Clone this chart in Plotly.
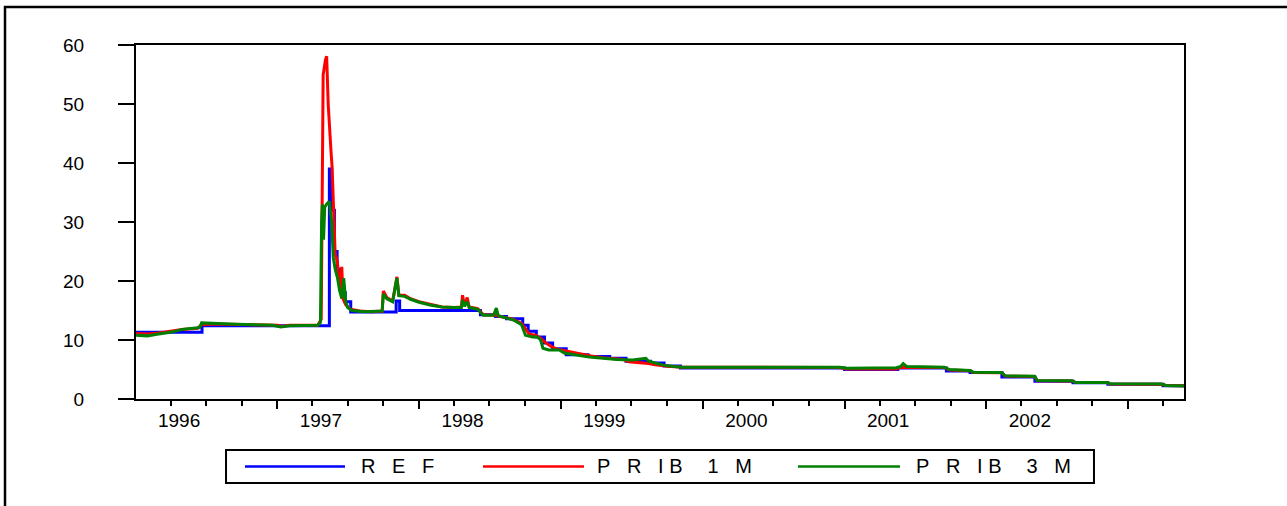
import plotly.graph_objects as go

# ---------------- data ----------------
ref_dates = ["1996-01-02", "1996-06-21", "1997-05-15", "1997-05-21", "1997-05-28",
             "1997-06-04", "1997-06-11", "1997-06-18", "1997-06-25", "1997-07-09",
             "1997-11-03", "1997-11-12", "1998-06-08", "1998-07-17", "1998-08-14",
             "1998-09-25", "1998-10-09", "1998-10-30", "1998-11-20", "1998-12-11",
             "1999-01-15", "1999-03-12", "1999-05-07", "1999-06-18", "1999-08-20",
             "1999-09-24", "1999-11-05", "2001-01-01", "2001-05-18", "2001-09-20",
             "2001-11-20", "2002-02-10", "2002-05-06", "2002-08-12", "2002-11-10",
             "2003-04-01", "2003-05-25"]
ref_values = [11.3, 12.4, 39.0, 32.0, 25.0,
              22.0, 20.0, 18.0, 16.5, 14.75,
              16.6, 15.0, 14.3, 14.0, 13.6,
              12.5, 11.5, 10.5, 9.5, 8.5,
              7.5, 7.2, 6.9, 6.4, 6.1,
              5.6, 5.25, 5.0, 5.25, 4.75,
              4.5, 3.75, 3.0, 2.75, 2.5,
              2.25, 2.25]

prib1m_dates = ["1996-01-02", "1996-02-01", "1996-03-01", "1996-04-01", "1996-05-01",
                "1996-06-10", "1996-06-20", "1996-07-15", "1996-09-01", "1996-11-01",
                "1997-01-02", "1997-01-10", "1997-02-01", "1997-04-15", "1997-04-24",
                "1997-04-27", "1997-04-29", "1997-05-05", "1997-05-08", "1997-05-12",
                "1997-05-15", "1997-05-19", "1997-05-22", "1997-05-26", "1997-05-30",
                "1997-06-04", "1997-06-09", "1997-06-13", "1997-06-16", "1997-06-19",
                "1997-06-26", "1997-07-08", "1997-08-01", "1997-09-01", "1997-09-28",
                "1997-10-01", "1997-10-10", "1997-10-25", "1997-11-05", "1997-11-10",
                "1997-11-25", "1997-12-10", "1998-01-01", "1998-02-01", "1998-03-01",
                "1998-04-01", "1998-04-20", "1998-04-23", "1998-04-28", "1998-05-05",
                "1998-05-10", "1998-06-01", "1998-06-15", "1998-07-15", "1998-08-10",
                "1998-09-01", "1998-09-22", "1998-10-02", "1998-10-12", "1998-10-28",
                "1998-11-10", "1998-11-22", "1998-12-05", "1998-12-20", "1999-01-20",
                "1999-02-20", "1999-03-20", "1999-04-20", "1999-05-20", "1999-06-10",
                "1999-06-25", "1999-07-20", "1999-08-15", "1999-09-01", "1999-09-20",
                "1999-10-10", "1999-11-10", "2000-06-01", "2000-12-20", "2001-01-05",
                "2001-05-15", "2001-05-25", "2001-09-15", "2001-09-28", "2001-11-20",
                "2001-11-28", "2002-02-10", "2002-02-18", "2002-05-05", "2002-05-12",
                "2002-08-10", "2002-08-18", "2002-11-08", "2002-11-15", "2003-03-28",
                "2003-04-08", "2003-05-25"]
prib1m_values = [11.1, 11.0, 11.2, 11.5, 11.8,
                 12.0, 12.6, 12.7, 12.6, 12.6,
                 12.5, 12.3, 12.5, 12.5, 13.5,
                 45.0, 55.0, 57.5, 58.1, 50.0,
                 45.6, 42.2, 39.3, 29.8, 24.5,
                 23.5, 20.0, 18.0, 22.4, 17.0,
                 16.0, 15.2, 14.9, 14.8, 14.9,
                 18.3, 17.2, 16.6, 20.7, 17.6,
                 17.6, 17.0, 16.5, 16.0, 15.6,
                 15.5, 15.6, 17.6, 15.8, 17.2,
                 15.6, 15.3, 14.3, 14.2, 13.8,
                 13.5, 12.8, 11.8, 11.0, 10.8,
                 10.3, 9.6, 9.0, 8.5, 8.1,
                 7.6, 7.3, 7.0, 6.8, 6.7,
                 6.3, 6.2, 6.0, 5.8, 5.6,
                 5.5, 5.4, 5.35, 5.35, 5.1,
                 5.1, 5.4, 5.35, 4.9, 4.8,
                 4.5, 4.45, 3.9, 3.8, 3.1,
                 3.05, 2.85, 2.8, 2.55, 2.5,
                 2.3, 2.25]

prib3m_dates = ["1996-01-02", "1996-02-01", "1996-03-01", "1996-04-01", "1996-05-01",
                "1996-06-15", "1996-06-20", "1996-07-20", "1996-09-01", "1996-11-01",
                "1996-12-20", "1997-01-10", "1997-02-01", "1997-04-15", "1997-04-22",
                "1997-04-25", "1997-04-27", "1997-04-30", "1997-05-03", "1997-05-08",
                "1997-05-15", "1997-05-21", "1997-05-25", "1997-05-30", "1997-06-05",
                "1997-06-10", "1997-06-16", "1997-06-21", "1997-06-26", "1997-07-01",
                "1997-07-12", "1997-08-15", "1997-09-28", "1997-10-01", "1997-10-10",
                "1997-10-25", "1997-11-05", "1997-11-10", "1997-11-25", "1997-12-10",
                "1998-01-01", "1998-02-01", "1998-03-01", "1998-04-01", "1998-04-20",
                "1998-04-23", "1998-04-28", "1998-05-05", "1998-05-10", "1998-06-01",
                "1998-06-15", "1998-07-12", "1998-07-19", "1998-07-24", "1998-08-10",
                "1998-09-01", "1998-09-22", "1998-10-02", "1998-10-20", "1998-11-02",
                "1998-11-10", "1998-11-16", "1998-12-01", "1998-12-28", "1999-01-10",
                "1999-02-15", "1999-03-15", "1999-04-20", "1999-05-25", "1999-07-05",
                "1999-08-08", "1999-08-15", "1999-09-05", "1999-09-25", "1999-10-20",
                "1999-11-10", "2000-06-01", "2000-12-20", "2001-01-05", "2001-05-15",
                "2001-05-25", "2001-06-01", "2001-06-10", "2001-09-15", "2001-09-28",
                "2001-11-20", "2001-11-28", "2002-02-10", "2002-02-18", "2002-05-05",
                "2002-05-12", "2002-08-10", "2002-08-18", "2002-11-08", "2002-11-15",
                "2003-03-28", "2003-04-08", "2003-05-25"]
prib3m_values = [10.8, 10.7, 11.0, 11.3, 11.8,
                 12.1, 12.9, 12.8, 12.7, 12.6,
                 12.5, 12.2, 12.4, 12.5, 13.0,
                 30.0, 33.0, 27.0, 32.5, 33.0,
                 33.5, 30.0, 24.0, 22.0, 20.5,
                 18.5, 17.0, 20.5, 16.5, 15.5,
                 15.0, 14.8, 14.9, 17.8, 17.0,
                 16.5, 20.5, 17.5, 17.4, 16.9,
                 16.4, 15.9, 15.6, 15.5, 15.5,
                 16.8, 15.7, 16.5, 15.5, 15.2,
                 14.2, 14.2, 15.4, 14.1, 13.8,
                 13.4, 12.6, 10.8, 10.5, 10.5,
                 10.0, 8.6, 8.3, 8.3, 7.8,
                 7.4, 7.1, 6.9, 6.7, 6.6,
                 6.9, 6.4, 6.0, 5.7, 5.5,
                 5.4, 5.4, 5.4, 5.2, 5.3,
                 5.5, 6.0, 5.5, 5.4, 5.0,
                 4.85, 4.55, 4.5, 3.95, 3.85,
                 3.15, 3.1, 2.8, 2.8, 2.6,
                 2.55, 2.3, 2.2]

year_labels = ["1996", "1997", "1998", "1999", "2000", "2001", "2002"]
year_label_dates = ["1996-04-23", "1997-04-23", "1998-04-23", "1999-04-23",
                    "2000-04-23", "2001-04-23", "2002-04-23"]
y_ticks = [0, 10, 20, 30, 40, 50, 60]

series_names = ["R E F", "P R I B 1 M", "P R I B 3 M"]
series_colors = ["#0000FF", "#FF0000", "#008000"]

x_range = ["1996-01-03", "2003-05-25"]

# ---------------- figure ----------------
FONT = "Liberation Sans, Arial, sans-serif"
fig = go.Figure()

fig.add_trace(go.Scatter(x=ref_dates, y=ref_values, mode="lines", name=series_names[0],
                         line=dict(color=series_colors[0], width=3, shape="hv")))
fig.add_trace(go.Scatter(x=prib1m_dates, y=prib1m_values, mode="lines", name=series_names[1],
                         line=dict(color=series_colors[1], width=3)))
fig.add_trace(go.Scatter(x=prib3m_dates, y=prib3m_values, mode="lines", name=series_names[2],
                         line=dict(color=series_colors[2], width=3)))
# carrier for the label axis
fig.add_trace(go.Scatter(x=x_range, y=[None, None], xaxis="x2", mode="lines",
                         showlegend=False, hoverinfo="skip"))

fig.update_layout(
    width=1287, height=506, autosize=False,
    margin=dict(l=136, r=103, t=45, b=107),
    paper_bgcolor="white", plot_bgcolor="white",
    font=dict(family=FONT, size=19, color="black"),
    showlegend=False,
    xaxis=dict(type="date", range=x_range, showgrid=False, zeroline=False,
               showline=True, linecolor="black", linewidth=2, mirror=True,
               ticks="outside", ticklen=8, tickwidth=2, tickcolor="black",
               dtick="M12", tick0="1996-01-01", showticklabels=False,
               minor=dict(dtick="M3", tick0="1996-01-01", ticks="outside",
                          ticklen=5, tickwidth=2, tickcolor="black")),
    xaxis2=dict(type="date", range=x_range, overlaying="x", anchor="y", side="bottom",
                showgrid=False, zeroline=False, showline=False, ticks="",
                tickmode="array", tickvals=year_label_dates, ticktext=year_labels,
                tickfont=dict(family=FONT, size=19, color="black"),
                ticklabelstandoff=8),
    yaxis=dict(range=[0, 60], tickmode="array", tickvals=y_ticks,
               showgrid=False, zeroline=False,
               showline=True, linecolor="black", linewidth=2, mirror=True,
               ticks="outside", ticklen=16, tickwidth=2, tickcolor="black",
               tickfont=dict(family=FONT, size=19, color="black"),
               ticklabelstandoff=30),
)

# outer frame of the picture (right and bottom edges run off the page)
fig.add_shape(type="rect", xref="paper", yref="paper",
              x0=-0.125, x1=1.3, y0=-0.7, y1=1.107,
              line=dict(color="black", width=2.5), fillcolor="rgba(0,0,0,0)", layer="below")

# legend box, drawn the way the source program draws it
fig.add_shape(type="rect", xref="paper", yref="paper",
              x0=0.0859, x1=0.9141, y0=-0.2373, y1=-0.1441,
              line=dict(color="black", width=2), fillcolor="white")
legend_line_x = [(0.1040, 0.1994), (0.3311, 0.4275), (0.6317, 0.7290)]
legend_text_x = [0.2128, 0.4380, 0.7424]
G = "\u2002\u2004"           # wide letter gap
legend_labels = ["R" + G + "E" + G + "F",
                 "P" + G + "R" + G + "I\u00a0B\u2003\u20051" + G + "M",
                 "P" + G + "R" + G + "I\u00a0B\u2003\u20053" + G + "M"]
for (lx0, lx1), tx, lab, col in zip(legend_line_x, legend_text_x, legend_labels, series_colors):
    fig.add_shape(type="line", xref="paper", yref="paper", x0=lx0, x1=lx1,
                  y0=-0.1907, y1=-0.1907, line=dict(color=col, width=2.5))
    fig.add_annotation(xref="paper", yref="paper", x=tx, y=-0.1893, text=lab,
                       showarrow=False, xanchor="left", yanchor="middle",
                       font=dict(family=FONT, size=20, color="black"))

fig.write_html("out.html", config={"displayModeBar": False},
               post_script="document.body.style.margin='0';")
